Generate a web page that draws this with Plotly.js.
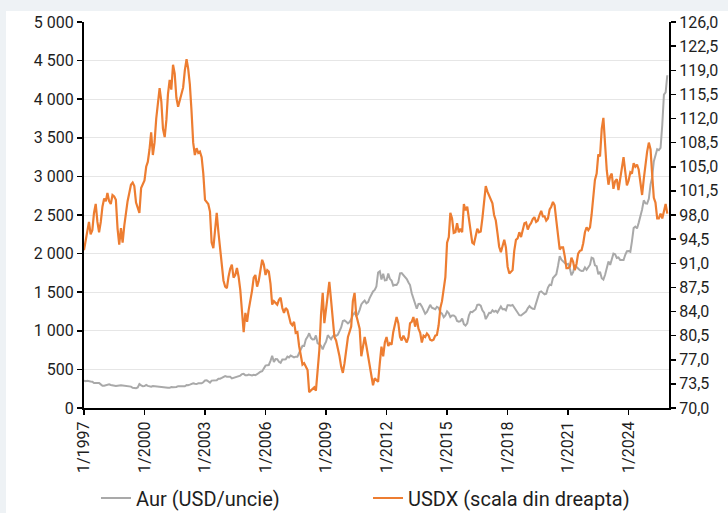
<!DOCTYPE html>
<html>
<head>
<meta charset="utf-8">
<script src="https://cdn.plot.ly/plotly-3.0.1.min.js"></script>
<style>
  html, body { margin: 0; padding: 0; background: #eef2f5; width: 728px; height: 513px; overflow: hidden; }
  #chart { position: absolute; left: 6px; top: 11px; width: 722px; height: 502px; background: #ffffff; }
</style>
</head>
<body>
<div id="chart"></div>
<script>
// Monthly series, January 1997 .. December 2025
const firstYear = 1997;

// Gold price, USD per ounce (left axis)
const gold = [
  355, 347, 352, 344, 344, 341, 324, 324, 323, 325, 306, 289,   // 1997
  289, 297, 296, 308, 299, 292, 293, 284, 289, 296, 294, 291,   // 1998
  287, 287, 286, 282, 277, 261, 256, 257, 265, 311, 293, 283,   // 1999
  285, 300, 286, 280, 275, 285, 282, 275, 273, 270, 266, 272,   // 2000
  266, 262, 263, 261, 272, 270, 268, 273, 283, 283, 276, 276,   // 2001
  282, 296, 294, 302, 314, 321, 314, 310, 319, 317, 319, 333,   // 2002
  357, 359, 340, 328, 355, 356, 351, 360, 379, 379, 389, 407,   // 2003
  414, 405, 406, 404, 384, 392, 398, 400, 406, 420, 439, 442,   // 2004
  424, 423, 434, 429, 422, 431, 424, 438, 456, 470, 476, 510,   // 2005
  549, 555, 557, 610, 676, 596, 633, 632, 598, 586, 628, 629,   // 2006
  631, 665, 655, 679, 667, 655, 665, 665, 712, 754, 806, 803,   // 2007
  889, 922, 968, 909, 888, 889, 939, 839, 829, 806, 760, 816,   // 2008
  858, 943, 924, 890, 928, 945, 934, 949, 996, 1043, 1127, 1134, // 2009
  1118, 1095, 1113, 1148, 1205, 1232, 1193, 1215, 1271, 1342, 1370, 1391, // 2010
  1356, 1372, 1424, 1474, 1510, 1529, 1573, 1756, 1772, 1665, 1739, 1652, // 2011
  1656, 1742, 1673, 1650, 1585, 1596, 1594, 1630, 1744, 1747, 1721, 1685, // 2012
  1671, 1627, 1593, 1487, 1414, 1343, 1286, 1347, 1349, 1316, 1275, 1221, // 2013
  1244, 1300, 1336, 1299, 1287, 1279, 1311, 1296, 1239, 1222, 1176, 1200, // 2014
  1251, 1227, 1179, 1198, 1199, 1181, 1128, 1117, 1125, 1159, 1086, 1068, // 2015
  1097, 1200, 1246, 1242, 1259, 1276, 1337, 1341, 1326, 1266, 1236, 1151, // 2016
  1192, 1234, 1231, 1266, 1246, 1260, 1237, 1283, 1315, 1280, 1283, 1265, // 2017
  1331, 1331, 1325, 1335, 1303, 1282, 1238, 1202, 1198, 1215, 1221, 1250, // 2018
  1291, 1320, 1300, 1285, 1284, 1359, 1413, 1500, 1511, 1495, 1471, 1480, // 2019
  1560, 1597, 1592, 1683, 1715, 1732, 1840, 1968, 1921, 1900, 1866, 1858, // 2020
  1867, 1808, 1718, 1760, 1850, 1834, 1807, 1785, 1775, 1777, 1821, 1790, // 2021
  1817, 1856, 1948, 1937, 1849, 1837, 1733, 1765, 1681, 1664, 1726, 1798, // 2022
  1898, 1854, 1912, 2000, 1992, 1943, 1951, 1918, 1916, 1916, 1985, 2030, // 2023
  2033, 2024, 2159, 2331, 2350, 2326, 2398, 2472, 2571, 2690, 2651, 2648, // 2024
  2709, 2895, 2984, 3193, 3288, 3352, 3340, 3368, 3665, 4058, 4087, 4310  // 2025
];

// US dollar index (right axis)
const usdx = [
  92.9, 94.5, 95.8, 97.0, 95.2, 95.8, 98.3, 99.6, 97.0, 95.5, 97.0, 99.2,   // 1997
  100.4, 100.0, 101.2, 100.0, 99.6, 100.9, 100.7, 100.2, 96.0, 93.7, 96.1, 94.0, // 1998
  96.5, 98.7, 100.0, 101.2, 102.4, 102.7, 102.2, 99.8, 99.0, 98.3, 101.9, 102.5, // 1999
  103.0, 105.0, 105.7, 107.5, 110.0, 106.7, 108.5, 112.0, 114.8, 116.4, 114.5, 110.5, // 2000
  109.3, 111.8, 115.5, 117.6, 116.2, 119.8, 118.5, 115.0, 113.7, 114.6, 115.4, 116.5, // 2001
  119.0, 120.6, 119.3, 117.0, 113.2, 108.5, 106.7, 107.7, 107.0, 107.2, 106.4, 104.0, // 2002
  100.2, 99.8, 99.6, 98.5, 94.0, 93.2, 96.0, 98.3, 95.5, 92.9, 91.0, 88.5,   // 2003
  87.6, 87.4, 89.0, 90.2, 90.8, 88.9, 89.3, 90.3, 89.0, 87.1, 84.0, 81.0,   // 2004
  83.8, 82.5, 84.2, 85.5, 87.0, 88.9, 89.3, 87.6, 88.5, 90.0, 91.5, 90.8,   // 2005
  89.3, 90.0, 89.8, 88.0, 85.0, 85.5, 85.2, 85.0, 85.7, 86.0, 84.5, 83.8,   // 2006
  84.5, 84.2, 83.3, 82.3, 82.0, 82.5, 80.9, 81.0, 79.0, 77.5, 76.3, 76.5,   // 2007
  76.0, 75.5, 72.3, 72.5, 72.8, 73.0, 72.5, 75.5, 78.4, 83.5, 86.7, 82.3,   // 2008
  84.5, 87.0, 88.3, 85.7, 82.5, 80.3, 79.8, 78.8, 77.5, 76.0, 75.1, 76.5,   // 2009
  78.9, 80.3, 81.0, 81.8, 85.5, 86.7, 83.5, 82.3, 81.5, 77.5, 78.9, 80.3,   // 2010
  79.0, 77.4, 76.5, 74.5, 73.3, 74.3, 74.0, 73.8, 76.5, 78.9, 77.5, 79.5,   // 2011
  80.3, 79.0, 79.4, 79.2, 81.0, 82.3, 83.2, 82.3, 80.3, 79.8, 80.5, 80.0,   // 2012
  79.5, 80.3, 82.3, 82.5, 83.2, 81.8, 83.0, 81.5, 80.9, 79.5, 80.5, 80.3,   // 2013
  80.8, 80.5, 79.9, 79.8, 79.9, 80.5, 80.6, 82.0, 84.5, 85.5, 87.5, 89.0,   // 2014
  94.0, 94.8, 98.3, 97.5, 95.4, 95.5, 96.8, 95.5, 96.0, 95.5, 99.6, 98.7,   // 2015
  99.2, 97.5, 95.5, 94.0, 93.8, 94.8, 96.0, 95.5, 95.6, 97.5, 100.2, 102.2, // 2016
  101.4, 100.8, 100.3, 99.7, 98.0, 97.2, 95.4, 93.4, 92.6, 93.7, 94.4, 93.3, // 2017
  90.5, 89.5, 89.8, 90.0, 92.8, 94.4, 94.6, 95.5, 94.8, 95.8, 96.8, 96.9,   // 2018
  95.9, 96.5, 96.8, 97.4, 97.7, 97.0, 97.2, 98.0, 98.6, 97.8, 97.8, 97.2,   // 2019
  97.5, 98.8, 99.2, 99.9, 99.4, 97.2, 94.8, 93.0, 93.3, 93.3, 92.0, 90.3,   // 2020
  90.3, 90.5, 91.8, 91.2, 90.0, 90.9, 92.4, 92.8, 92.9, 93.9, 95.5, 96.2,   // 2021
  95.8, 96.2, 98.0, 101.0, 103.1, 104.0, 106.8, 106.5, 110.5, 112.1, 107.3, 104.5, // 2022
  102.4, 103.6, 104.0, 101.8, 102.9, 103.2, 101.6, 103.5, 105.4, 106.4, 104.3, 102.3, // 2023
  103.0, 104.2, 104.0, 105.5, 105.0, 105.3, 104.6, 102.5, 100.9, 103.2, 105.6, 107.2, // 2024
  108.5, 107.5, 104.0, 100.5, 99.8, 97.5, 97.5, 98.2, 97.5, 98.8, 99.6, 98.2  // 2025
];

const goldName = 'Aur (USD/uncie)';
const usdxName = 'USDX (scala din dreapta)';

function monthDates(n) {
  const out = [];
  for (let i = 0; i < n; i++) {
    const y = firstYear + Math.floor(i / 12);
    const m = (i % 12) + 1;
    out.push(y + '-' + (m < 10 ? '0' + m : m) + '-01');
  }
  return out;
}
const dates = monthDates(gold.length);

const fontFamily = 'Roboto, "Liberation Sans", Arial, sans-serif';
const txt = '#1e1e1e';

const traces = [
  {
    x: dates, y: gold, name: goldName, type: 'scatter', mode: 'lines',
    line: { color: '#a9a9a9', width: 2 }, yaxis: 'y', legend: 'legend'
  },
  {
    x: dates, y: usdx, name: usdxName, type: 'scatter', mode: 'lines',
    line: { color: '#ed7d31', width: 2.2 }, yaxis: 'y2', legend: 'legend2'
  }
];

const layout = {
  width: 722, height: 502,
  margin: { l: 78, r: 59, t: 11, b: 105, autoexpand: false },
  paper_bgcolor: '#ffffff', plot_bgcolor: '#ffffff',
  separators: ', ',
  font: { family: fontFamily, size: 16, color: txt },
  showlegend: true,
  xaxis: {
    type: 'date', automargin: false,
    range: ['1997-01-01', '2026-01-01'],
    tick0: '1997-01-01', dtick: 'M36',
    tickformat: '%-m/%Y', tickangle: -90,
    ticks: 'outside', ticklen: 5, tickwidth: 1.5, tickcolor: '#000',
    showline: true, linecolor: '#000', linewidth: 2,
    showgrid: false, zeroline: false,
    tickfont: { family: fontFamily, size: 16, color: txt }
  },
  yaxis: {
    automargin: false,
    range: [0, 5000], dtick: 500, tick0: 0,
    tickformat: ',d',
    ticks: 'outside', ticklen: 5, tickwidth: 1.5, tickcolor: '#000',
    showline: true, linecolor: '#000', linewidth: 2,
    showgrid: true, gridcolor: '#e6e6e6', gridwidth: 1,
    zeroline: false,
    tickfont: { family: fontFamily, size: 16, color: txt }
  },
  yaxis2: {
    automargin: false,
    overlaying: 'y', side: 'right',
    range: [70, 126], dtick: 3.5, tick0: 70,
    tickformat: '.1f',
    ticks: 'outside', ticklen: 5, tickwidth: 1.5, tickcolor: '#000',
    showline: true, linecolor: '#000', linewidth: 2,
    showgrid: false, zeroline: false,
    tickfont: { family: fontFamily, size: 16, color: txt }
  },
  legend: {
    orientation: 'h', x: 0.0205, xanchor: 'left', y: -0.2332, yanchor: 'middle',
    font: { family: fontFamily, size: 20, color: txt },
    bgcolor: 'rgba(0,0,0,0)'
  },
  legend2: {
    orientation: 'h', x: 0.4855, xanchor: 'left', y: -0.2332, yanchor: 'middle',
    font: { family: fontFamily, size: 20, color: txt },
    bgcolor: 'rgba(0,0,0,0)'
  }
};

Plotly.newPlot('chart', traces, layout, { staticPlot: true, displayModeBar: false });
</script>
</body>
</html>
